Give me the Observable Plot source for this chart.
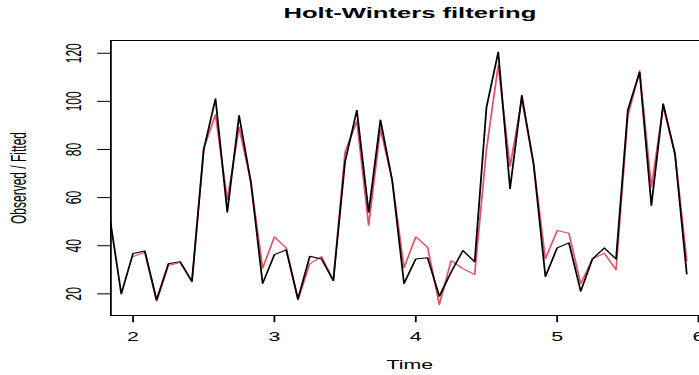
<!DOCTYPE html>
<html><head><meta charset="utf-8">
<script src="https://cdn.jsdelivr.net/npm/d3@7"></script>
<script src="https://cdn.jsdelivr.net/npm/@observablehq/plot@0.6"></script>
<style>
html,body{margin:0;padding:0;background:#fff;}
#chart svg{display:block;}
</style>
</head><body><div id="chart"></div>
<script>
// Time series structure (monthly, frequency 12)
const frequency = 12;
const observedStart = 1 + 10 / 12;   // first observation visible at the left edge
const fittedStart = 2;

// Observed series (black)
const observed = [
  52.6, 20.0,
  36.8, 37.8, 17.5, 32.5, 33.4, 25.2, 80.0, 101.1, 53.9, 94.1, 66.5, 24.3,
  36.3, 38.3, 17.9, 35.6, 34.5, 25.5, 75.0, 96.3, 53.9, 92.3, 67.1, 24.3,
  34.5, 35.0, 19.0, 29.0, 38.0, 33.3, 97.5, 120.5, 63.7, 102.5, 74.0, 27.2,
  39.1, 41.2, 21.1, 34.5, 39.1, 34.5, 96.5, 112.1, 56.7, 99.0, 78.2, 28.3
];

// Fitted series (red)
const fitted = [
  35.5, 37.3, 17.0, 31.8, 33.0, 25.0, 80.5, 94.5, 59.0, 89.3, 66.5, 30.6,
  43.7, 39.1, 17.5, 32.5, 35.5, 25.5, 79.0, 91.8, 48.4, 88.6, 67.1, 30.8,
  43.7, 39.4, 15.5, 33.8, 30.5, 28.0, 80.0, 115.0, 73.0, 100.8, 74.0, 34.5,
  46.3, 45.2, 24.2, 34.5, 36.9, 30.0, 94.1, 112.8, 64.3, 98.0, 78.2, 33.8
];

const xTicks = [2, 3, 4, 5, 6];
const yTicks = [20, 40, 60, 80, 100, 120];
const xDomain = [1.8433, 6.0733];
const yDomain = [11.0, 125.3];
const title = "Holt-Winters filtering";
const xLabel = "Time";
const yLabel = "Observed / Fitted";

const obsData = observed.map((v, i) => ({t: observedStart + i / frequency, v}));
const fitData = fitted.map((v, i) => ({t: fittedStart + i / frequency, v}));

const W = 699, H = 375, stretch = 1.78;
const w0 = W / stretch;

const chart = Plot.plot({
  width: w0,
  height: H,
  marginLeft: 110 / stretch,
  marginRight: w0 - 708 / stretch,
  marginTop: 40,
  marginBottom: 60,
  style: {fontFamily: "'Liberation Sans', Arial, Helvetica, sans-serif", fontSize: "12px", background: "white", color: "black", overflow: "hidden"},
  x: {domain: xDomain, ticks: xTicks, tickFormat: d => String(d), tickSize: 7.2, tickPadding: 9.8,
      label: xLabel, labelAnchor: "center", labelOffset: 53, labelArrow: "none"},
  y: {domain: yDomain, ticks: yTicks, tickFormat: d => String(d), tickSize: 7.2, tickPadding: 9.6, tickRotate: -90,
      label: yLabel, labelAnchor: "center", labelOffset: 56, labelArrow: "none"},
  marks: [
    Plot.line(fitData, {x: "t", y: "v", stroke: "#DF536B", strokeWidth: 1, clip: true}),
    Plot.line(obsData, {x: "t", y: "v", stroke: "black", strokeWidth: 1, clip: true}),
    Plot.frame({stroke: "black", strokeWidth: 1}),
    Plot.text([title], {frameAnchor: "top", lineAnchor: "bottom", dy: -22.5, fontSize: 14.4, fontWeight: "bold"})
  ]
});

chart.setAttribute("preserveAspectRatio", "none");
chart.setAttribute("width", W);
chart.setAttribute("height", H);
chart.style.width = W + "px";
chart.style.height = H + "px";
chart.style.maxWidth = "none";
document.getElementById("chart").appendChild(chart);
</script>
</body></html>
